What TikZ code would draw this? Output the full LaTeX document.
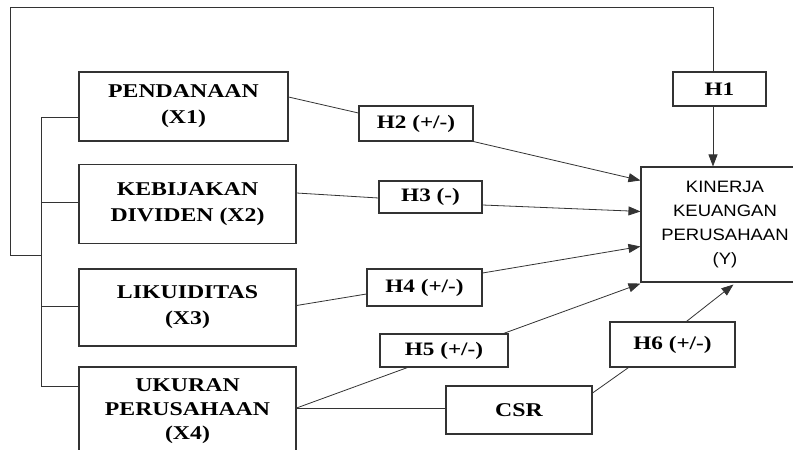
\documentclass[tikz,border=0pt]{standalone}
\usepackage{fontspec}
\newfontfamily\tnr{Liberation Serif}[FakeStretch=1.22]
\newfontfamily\ari{Liberation Sans}[FakeStretch=1.12]
\usetikzlibrary{arrows.meta,calc}
\begin{document}
\begin{tikzpicture}[x=1pt,y=-1pt,
  box/.style={draw=black!80,line width=1.1pt,rectangle,inner sep=0pt,align=center,
    font=\tnr\bfseries\fontsize{19.5}{26}\selectfont},
  hbox/.style={draw=black!80,line width=1.1pt,rectangle,inner sep=0pt,align=center,
    font=\tnr\bfseries\fontsize{19}{22}\selectfont},
  conn/.style={draw=black!80,line width=0.8pt},
  arr/.style={conn,-{Triangle[length=12pt,width=9pt]}}]
\useasboundingbox (0,0) rectangle (793,450);
\fill[white] (0,0) rectangle (793,450);

% variable boxes
\node[box,minimum width=209,minimum height=69] (P) at (183.5,106.5) {PENDANAAN\\(X1)};
\node[box,minimum width=217,minimum height=79] (K) at (187.5,204) {KEBIJAKAN\\DIVIDEN (X2)};
\node[box,minimum width=217,minimum height=77] (L) at (187.5,307.5) {LIKUIDITAS\\(X3)};
\node[box,minimum width=217,minimum height=88,font=\tnr\bfseries\fontsize{19.5}{24}\selectfont] (U) at (187.5,411) {UKURAN\\PERUSAHAAN\\(X4)};
\node[box,minimum width=168,minimum height=115,font=\ari\fontsize{16.5}{24}\selectfont] (Y) at (725,224.5) {KINERJA\\KEUANGAN\\PERUSAHAAN\\(Y)};

% hypothesis boxes
\node[hbox,minimum width=93,minimum height=34] (H1) at (719.5,89) {H1};
\node[hbox,minimum width=114,minimum height=35] (H2) at (416,123.5) {H2 (+/-)};
\node[hbox,minimum width=103,minimum height=32] (H3) at (430.5,197) {H3 (-)};
\node[hbox,minimum width=115,minimum height=37] (H4) at (424.5,287.5) {H4 (+/-)};
\node[hbox,minimum width=128,minimum height=33] (H5) at (444,350.5) {H5 (+/-)};
\node[hbox,minimum width=146,minimum height=48,font=\tnr\bfseries\fontsize{19.5}{22}\selectfont] (CSR) at (519,410) {CSR};
\node[hbox,minimum width=125,minimum height=45] (H6) at (672.5,344.5) {H6 (+/-)};

% bracket and outer loop
\coordinate (b1) at (41,117);
\coordinate (b2) at (41,202);
\coordinate (b3) at (41,306);
\coordinate (b4) at (41,386);
\coordinate (bl) at (41,255);
\coordinate (c1) at (10,255);
\coordinate (c2) at (10,7);
\coordinate (c3) at (713,7);
\draw[conn] (b1) -- (b4);
\draw[conn] (b1) -- (b1 -| P.west);
\draw[conn] (b2) -- (b2 -| K.west);
\draw[conn] (b3) -- (b3 -| L.west);
\draw[conn] (b4) -- (b4 -| U.west);
\draw[conn] (bl) -- (c1) -- (c2) -- (c3) -- (c3 |- H1.north);
\draw[arr] (c3 |- H1.south) -- (c3 |- Y.north);

% paths to Y
\draw[conn] ($(P.east)+(0,-9.5)$) -- ($(H2.west)+(0,-10.5)$);
\draw[arr] (H2.south east) -- ($(Y.north west)+(0,14)$);
\draw[conn] ($(K.east)+(0,-11)$) -- ($(H3.west)+(0,1)$);
\draw[arr] ($(H3.east)+(0,8)$) -- ($(Y.north west)+(0,45)$);
\draw[conn] ($(L.east)+(0,-2)$) -- ($(H4.west)+(0,6.5)$);
\draw[arr] ($(H4.east)+(0,-14.5)$) -- ($(Y.north west)+(0,80)$);
\draw[conn] ($(U.east)+(0,-3)$) -- ($(H5.south west)+(28,0)$);
\draw[arr] ($(H5.north east)+(-5,0)$) -- ($(Y.south west)+(0,1)$);
\draw[conn] ($(U.east)+(0,-3)$) -- ($(CSR.west)+(0,-2)$);
\draw[conn] ($(CSR.east)+(0,-17)$) -- ($(H6.south west)+(19,0)$);
\draw[arr] ($(H6.north west)+(77,0)$) -- ($(Y.south west)+(93,2)$);
\end{tikzpicture}
\end{document}
